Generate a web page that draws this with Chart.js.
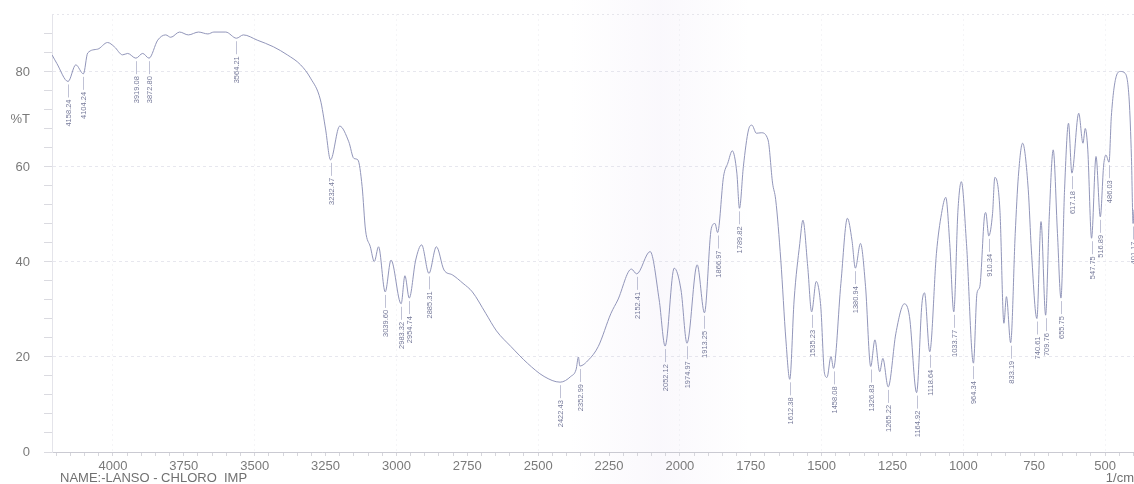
<!DOCTYPE html>
<html>
<head>
<meta charset="utf-8">
<script src="https://cdn.jsdelivr.net/npm/chart.js@4/dist/chart.umd.min.js"></script>
<style>
  html, body { margin: 0; padding: 0; background: #ffffff; }
  #wrap { position: relative; width: 1134px; height: 484px; }
</style>
</head>
<body>
<div id="wrap"><canvas id="ir" width="1134" height="484"></canvas></div>
<script>
// IR spectrum: wavenumber (1/cm) against transmittance (%T)
const wavenumbers = [
  4215, 4198, 4158.24, 4131, 4104.24, 4089, 4054, 4019, 3995, 3966, 3948, 3919.08, 3895, 3872.80,
  3842, 3814, 3796, 3765, 3734, 3698, 3665, 3644, 3602, 3564.21, 3540, 3491, 3434, 3385, 3338,
  3303, 3268, 3250, 3232.47, 3200, 3168, 3150, 3136, 3121, 3109, 3092, 3078, 3063, 3039.60, 3019,
  2983.32, 2970, 2954.74, 2932, 2911, 2885.31, 2859, 2832, 2803, 2765, 2732, 2685, 2647, 2596,
  2538, 2479, 2422.43, 2385, 2366, 2358, 2352.99, 2322, 2288, 2243, 2219, 2171, 2152.41, 2105,
  2073, 2052.12, 2020, 1996, 1974.97, 1939, 1913.25, 1889, 1876, 1866.97, 1846, 1831, 1815, 1799,
  1789.82, 1776, 1758, 1746, 1730, 1713, 1689, 1673, 1662, 1644, 1626, 1612.38, 1597, 1577, 1566,
  1549, 1535.23, 1519, 1503, 1490, 1481, 1467, 1458.08, 1432, 1409, 1393, 1380.94, 1363, 1345,
  1326.83, 1312, 1295, 1284, 1265.22, 1238, 1208, 1190, 1164.92, 1146, 1137, 1118.64, 1095, 1077,
  1062, 1048, 1033.77, 1019, 1007, 989, 964.34, 952, 942, 924, 921, 910.34, 897, 889, 871, 857,
  848, 833.19, 817, 806, 791, 771, 760, 740.61, 726, 709.76, 697, 683, 668, 655.75, 643, 629,
  617.18, 593, 578, 570, 561, 547.75, 532, 516.89, 505, 497, 486.03, 478, 461, 446, 429, 415, 407,
  401.17, 398
];
const transmittance = [
  83.6, 81.8, 78.0, 81.5, 79.6, 84.0, 84.8, 86.2, 85.3, 83.6, 83.9, 82.9, 83.9, 82.9,
  86.7, 87.8, 87.3, 88.4, 87.8, 88.4, 88.0, 88.4, 88.4, 87.1, 87.8, 86.7, 85.3, 83.6, 81.5,
  78.7, 74.1, 68.0, 61.5, 68.6, 65.3, 61.8, 61.5, 55.9, 46.7, 43.2, 40.1, 43.2, 33.7, 40.4,
  31.2, 37.1, 32.4, 40.4, 43.6, 37.6, 43.2, 38.3, 37.3, 35.5, 33.7, 29.2, 25.5, 22.2,
  18.7, 15.9, 14.7, 15.9, 17.4, 20.0, 18.1, 19.4, 22.2, 29.2, 32.0, 38.5, 37.5, 42.2,
  32.0, 22.3, 38.7, 34.1, 22.9, 39.4, 29.3, 47.1, 48.1, 46.2, 58.0, 60.8, 63.4, 58.7,
  51.3, 60.1, 67.8, 68.8, 67.1, 67.2, 65.7, 56.6, 53.1, 40.4, 23.6, 15.3, 32.0, 43.9, 48.8,
  39.0, 29.5, 35.9, 30.6, 16.6, 15.7, 20.1, 17.6, 35.5, 49.2, 44.6, 38.7, 43.9, 34.8,
  18.0, 23.6, 16.9, 19.7, 13.7, 25.0, 31.2, 28.5, 12.5, 31.3, 33.5, 21.1, 41.8, 50.2,
  53.6, 43.9, 29.5, 50.9, 56.9, 43.9, 18.7, 33.4, 34.8, 50.2, 50.4, 45.5, 50.2, 57.8, 50.9, 27.1,
  32.7, 23.0, 46.0, 58.0, 65.0, 55.2, 42.5, 28.1, 48.5, 28.8, 49.5, 63.6, 46.0, 32.4, 55.2, 69.2,
  58.7, 71.3, 65.0, 68.1, 63.6, 45.0, 62.2, 49.5, 60.4, 62.5, 61.0, 70.6, 79.0, 80.1, 79.7, 74.1, 62.0,
  48.1, 51.0
];

// Band positions that carry a value label
const peakLabels = [
  4158.24, 4104.24, 3919.08, 3872.80, 3564.21, 3232.47, 3039.60, 2983.32, 2954.74, 2885.31,
  2422.43, 2352.99, 2152.41, 2052.12, 1974.97, 1913.25, 1866.97, 1789.82, 1612.38, 1535.23,
  1458.08, 1380.94, 1326.83, 1265.22, 1164.92, 1118.64, 1033.77, 964.34, 910.34, 833.19,
  740.61, 709.76, 655.75, 617.18, 547.75, 516.89, 486.03, 401.17
];

const xTickLabels = [4000, 3750, 3500, 3250, 3000, 2750, 2500, 2250, 2000, 1750, 1500, 1250, 1000, 750, 500];
const yTickLabels = [0, 20, 40, 60, 80];

const X_MAX = 4215, X_MIN = 398;
const Y_MIN = 0, Y_MAX = 92.2;

const CURVE = '#9296ba';
const LABEL = '#767a9a';
const AXIS_TEXT = '#7a7a7a';

const fmt = v => v.toFixed(2);

// faint tint across the middle of the sheet
const tintPlugin = {
  id: 'tint',
  beforeDraw(chart) {
    const { ctx } = chart;
    ctx.save();
    ctx.fillStyle = '#ffffff';
    ctx.fillRect(0, 0, chart.width, chart.height);
    const g = ctx.createLinearGradient(570, 0, 750, 0);
    g.addColorStop(0, 'rgba(205,190,230,0)');
    g.addColorStop(0.5, 'rgba(205,190,230,0.10)');
    g.addColorStop(1, 'rgba(205,190,230,0)');
    ctx.fillStyle = g;
    ctx.fillRect(570, 0, 180, chart.height);
    ctx.restore();
  }
};

// vertical wavenumber labels under each marked band
const peakLabelPlugin = {
  id: 'peakLabels',
  afterDatasetsDraw(chart) {
    const { ctx } = chart;
    const meta = chart.getDatasetMeta(0);
    ctx.save();
    ctx.font = '7.5px "Liberation Sans", Arial, sans-serif';
    ctx.fillStyle = LABEL;
    ctx.strokeStyle = '#b0b3ca';
    ctx.lineWidth = 0.8;
    peakLabels.forEach(w => {
      const i = wavenumbers.indexOf(w);
      if (i < 0) return;
      const p = meta.data[i];
      const x = Math.round(p.x) + 0.5;
      const y = p.y;
      ctx.beginPath();
      ctx.moveTo(x, y + 3);
      ctx.lineTo(x, y + 16);
      ctx.stroke();
      ctx.save();
      ctx.translate(x, y + 18);
      ctx.rotate(-Math.PI / 2);
      ctx.textAlign = 'right';
      ctx.textBaseline = 'middle';
      ctx.fillText(fmt(w), 0, 0.5);
      ctx.restore();
    });
    ctx.restore();
  }
};

// axis captions and the sample name line
const captionPlugin = {
  id: 'captions',
  afterDraw(chart) {
    const { ctx, scales } = chart;
    ctx.save();
    ctx.fillStyle = AXIS_TEXT;
    ctx.font = '13px "Liberation Sans", Arial, sans-serif';
    ctx.textAlign = 'right';
    ctx.textBaseline = 'middle';
    ctx.fillText('%T', 30, scales.y.getPixelForValue(70));
    ctx.textBaseline = 'alphabetic';
    ctx.fillStyle = '#707070';
    ctx.textAlign = 'right';
    ctx.fillText('1/cm', 1134, 482);
    ctx.textAlign = 'left';
    ctx.fillText('NAME:-LANSO - CHLORO  IMP', 60, 482);
    ctx.restore();
  }
};

// dotted top edge of the plotting frame
const frameTopPlugin = {
  id: 'frameTop',
  afterDraw(chart) {
    const { ctx, chartArea } = chart;
    ctx.save();
    ctx.strokeStyle = '#e6e6ec';
    ctx.setLineDash([2, 3]);
    ctx.beginPath();
    ctx.moveTo(chartArea.left, chartArea.top + 0.5);
    ctx.lineTo(chartArea.right, chartArea.top + 0.5);
    ctx.stroke();
    ctx.restore();
  }
};

const points = wavenumbers.map((w, i) => ({ x: w, y: transmittance[i] }));

new Chart(document.getElementById('ir'), {
  type: 'line',
  data: {
    datasets: [{
      data: points,
      borderColor: CURVE,
      borderWidth: 1,
      pointRadius: 0,
      fill: false,
      cubicInterpolationMode: 'monotone'
    }]
  },
  options: {
    responsive: false,
    animation: false,
    devicePixelRatio: 1,
    layout: { padding: { top: 14, left: 0, right: 0, bottom: 0 } },
    plugins: { legend: { display: false }, tooltip: { enabled: false } },
    scales: {
      x: {
        type: 'linear',
        reverse: true,
        min: X_MIN,
        max: X_MAX,
        afterBuildTicks(scale) {
          const t = [];
          for (let v = 400; v <= 4200; v += 50) t.push({ value: v });
          scale.ticks = t;
        },
        afterFit(scale) {
          scale.height = 32;
          scale.paddingLeft = 0;
          scale.paddingRight = 0;
        },
        ticks: {
          autoSkip: false,
          maxRotation: 0,
          padding: 3,
          color: AXIS_TEXT,
          font: { family: '"Liberation Sans", Arial, sans-serif', size: 13 },
          callback: v => (xTickLabels.includes(v) ? String(v) : '')
        },
        grid: {
          drawOnChartArea: true,
          color: c => (c.tick && c.tick.value % 500 === 0 ? 'rgba(225,225,232,0.35)' : 'rgba(0,0,0,0)'),
          tickColor: '#d6d6dc',
          tickLength: 4,
          lineWidth: 1
        },
        border: { display: true, color: '#cacad2', dash: [2, 3] }
      },
      y: {
        min: Y_MIN,
        max: Y_MAX,
        afterBuildTicks(scale) {
          const t = [];
          for (let v = 0; v <= 88; v += 4) t.push({ value: v });
          scale.ticks = t;
        },
        afterFit(scale) {
          scale.width = 52;
          scale.paddingTop = 0;
          scale.paddingBottom = 0;
        },
        ticks: {
          autoSkip: false,
          padding: 14,
          color: AXIS_TEXT,
          font: { family: '"Liberation Sans", Arial, sans-serif', size: 13 },
          callback: v => (yTickLabels.includes(v) ? String(v) : '')
        },
        grid: {
          drawOnChartArea: true,
          color: c => (c.tick && c.tick.value > 0 && c.tick.value % 20 === 0 ? 'rgba(215,215,226,0.6)' : 'rgba(0,0,0,0)'),
          tickColor: '#dadae0',
          tickLength: 8,
          lineWidth: 1
        },
        border: { display: true, color: '#e4e4ea', dash: [3, 3] }
      }
    }
  },
  plugins: [tintPlugin, peakLabelPlugin, captionPlugin, frameTopPlugin]
});
</script>
</body>
</html>
